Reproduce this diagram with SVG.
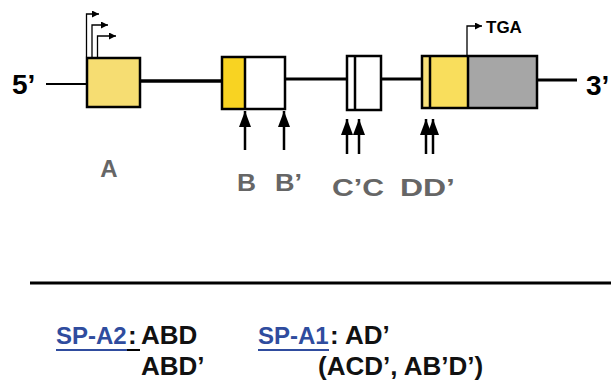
<svg xmlns="http://www.w3.org/2000/svg" width="611" height="390" viewBox="0 0 611 390">
  <defs>
    <style>
      .ln { stroke: #000; fill: none; }
      .box { stroke: #000; stroke-width: 2.5; }
      .lbl { font-family: "Liberation Sans", Arial, sans-serif; font-weight: bold; fill: #666; font-size: 24px; }
      .end { font-family: "Liberation Sans", Arial, sans-serif; font-weight: bold; fill: #000; font-size: 28px; }
      .txt { font-family: "Liberation Sans", Arial, sans-serif; font-weight: bold; fill: #111; font-size: 26px; }
      .sp { fill: #2F4C9E; font-size: 24px; }
      .up { stroke: #000; stroke-width: 2.5; marker-end: url(#ah); }
      .tss { stroke: #000; stroke-width: 1.3; fill: none; marker-end: url(#sa); }
    </style>
    <marker id="ah" viewBox="0 0 16 12" refX="16" refY="6" markerUnits="userSpaceOnUse" markerWidth="16" markerHeight="12" orient="auto">
      <path d="M0,0 L16,6 L0,12 z" fill="#000"/>
    </marker>
    <marker id="sa" viewBox="0 0 10 10" refX="10" refY="5" markerUnits="userSpaceOnUse" markerWidth="7" markerHeight="7" orient="auto">
      <path d="M0,0 L10,5 L0,10 z" fill="#000"/>
    </marker>
  </defs>
  <rect width="611" height="390" fill="#fff"/>

  <g id="connectors">
    <line class="ln" x1="46" y1="84" x2="87" y2="84" stroke-width="2.2"/>
    <line class="ln" x1="140" y1="81" x2="222" y2="81" stroke-width="3.5"/>
    <line class="ln" x1="285" y1="79" x2="347" y2="79" stroke-width="3"/>
    <line class="ln" x1="381" y1="79" x2="422" y2="79" stroke-width="3"/>
    <line class="ln" x1="537" y1="80" x2="577" y2="80" stroke-width="3"/>
    <polyline class="tss" points="86.5,57 86.5,14 99,14"/>
    <polyline class="tss" points="92,57 92,25 108,25"/>
    <polyline class="tss" points="97.5,57 97.5,36 116,36"/>
    <polyline class="tss" points="467,56 467,26 482,26"/>
    <line class="up" x1="245" y1="150" x2="245" y2="111"/>
    <line class="up" x1="284" y1="150" x2="284" y2="111"/>
    <line class="up" x1="347" y1="154" x2="347" y2="119"/>
    <line class="up" x1="359" y1="154" x2="359" y2="119"/>
    <line class="up" x1="426" y1="154" x2="426" y2="119"/>
    <line class="up" x1="433" y1="154" x2="433" y2="119"/>
    <line class="ln" x1="30" y1="283" x2="611" y2="283" stroke-width="2.8"/>
  </g>

  <g id="exon-A">
    <rect class="box" x="87" y="58" width="53" height="49" fill="#F6DD72"/>
  </g>
  <g id="exon-B">
    <rect x="222" y="57" width="23" height="52" fill="#F8D322"/>
    <rect class="box" x="222" y="57" width="63" height="52" fill="none"/>
    <line class="ln" x1="245" y1="57" x2="245" y2="109" stroke-width="2.5"/>
  </g>
  <g id="exon-C">
    <rect class="box" x="347" y="56" width="34" height="54" fill="#fff"/>
    <line class="ln" x1="355" y1="56" x2="355" y2="110" stroke-width="2.5"/>
  </g>
  <g id="exon-D">
    <rect x="422" y="56" width="8" height="52" fill="#F7E07A"/>
    <rect x="430" y="56" width="38" height="52" fill="#F9DE5C"/>
    <rect x="468" y="56" width="69" height="52" fill="#A6A6A6"/>
    <rect class="box" x="422" y="56" width="115" height="52" fill="none"/>
    <line class="ln" x1="430" y1="56" x2="430" y2="108" stroke-width="2.5"/>
    <line class="ln" x1="468" y1="56" x2="468" y2="108" stroke-width="2.5"/>
  </g>

  <g id="ends">
    <text class="end" x="12" y="94">5’</text>
    <text class="end" x="586" y="95">3’</text>
    <text x="486" y="33" font-family="Liberation Sans, Arial, sans-serif" font-weight="bold" font-size="17">TGA</text>
  </g>

  <g id="labels">
    <text class="lbl" x="109" y="177" text-anchor="middle">A</text>
    <text class="lbl" x="237" y="191" textLength="19" lengthAdjust="spacingAndGlyphs">B</text>
    <text class="lbl" x="275" y="191" textLength="27" lengthAdjust="spacingAndGlyphs">B’</text>
    <text class="lbl" x="332" y="196" textLength="52" lengthAdjust="spacingAndGlyphs">C’C</text>
    <text class="lbl" x="400" y="196" textLength="55" lengthAdjust="spacingAndGlyphs">DD’</text>
  </g>

  <g id="isoforms">
    <text class="txt sp" x="56" y="344">SP-A2</text>
    <text class="txt" x="128" y="344">:</text>
    <line x1="56" y1="350" x2="127" y2="350" stroke="#2F4C9E" stroke-width="2"/>
    <line x1="127" y1="350" x2="140" y2="350" stroke="#000" stroke-width="2"/>
    <text class="txt" x="141" y="344">ABD</text>
    <text class="txt" x="141" y="375">ABD’</text>
    <text class="txt sp" x="258" y="344">SP-A1</text>
    <line x1="258" y1="350" x2="329" y2="350" stroke="#2F4C9E" stroke-width="2"/>
    <text class="txt" x="330" y="344">: AD’</text>
    <text class="txt" x="318" y="375">(ACD’, AB’D’)</text>
  </g>
</svg>
